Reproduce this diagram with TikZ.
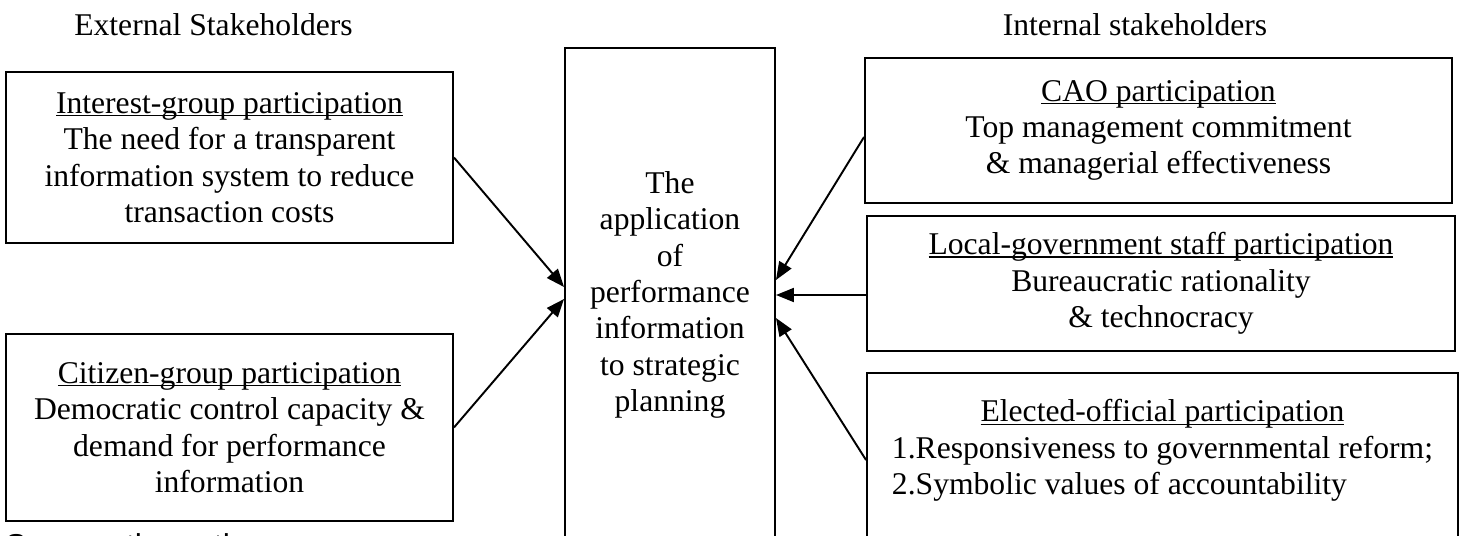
\documentclass[tikz,border=0pt]{standalone}
\usepackage{fontspec}
\setmainfont{Liberation Serif}
\newfontfamily\srcfont{Liberation Sans}
\usetikzlibrary{arrows.meta,positioning}

% underline that sits close to the baseline
\newcommand{\undr}[1]{\setbox0=\hbox{#1}\rlap{\rule[-1.8pt]{\wd0}{0.9pt}}\box0}

\begin{document}
\begin{tikzpicture}[
  every node/.style={font=\fontsize{18}{20.7}\selectfont},
  box/.style={rectangle, draw=black, line width=1.1pt, align=center, inner sep=2pt},
  hdr/.style={align=center, inner sep=0pt},
  arr/.style={-{Triangle[length=0.36cm, width=0.28cm]}, line width=1.1pt}
]
  \useasboundingbox (0,0) rectangle (29.2,-10.7);

  % headings
  \node[hdr] (exthdr) at (4.27,-0.5) {External Stakeholders};
  \node[hdr] (inthdr) at (22.7,-0.5) {Internal stakeholders};

  % centre
  \node[box, minimum width=4.2cm, minimum height=9.88cm] (appl) at (13.4,-5.9)
    {The\\ application\\ of\\ performance\\ information\\ to strategic\\ planning};

  % external side
  \node[box, minimum width=8.94cm, minimum height=3.42cm] (interest) at (4.59,-3.15)
    {\undr{Interest-group participation}\\ The need for a transparent\\
     information system to reduce\\ transaction costs};
  \node[box, minimum width=8.94cm, minimum height=3.74cm] (citizen) at (4.59,-8.55)
    {\undr{Citizen-group participation}\\ Democratic control capacity \&\\
     demand for performance\\ information};

  % internal side
  \node[box, minimum width=11.74cm, minimum height=2.9cm] (cao) at (23.17,-2.61)
    {\undr{CAO participation}\\ Top management commitment\\ \& managerial effectiveness};
  \node[box, minimum width=11.76cm, minimum height=2.7cm] (staff) at (23.22,-5.67)
    {\undr{Local-government staff participation}\\ Bureaucratic rationality\\ \& technocracy};
  \node[box, minimum width=11.82cm, minimum height=3.72cm] (elected) at (23.25,-9.32)
    {\undr{Elected-official participation}\\
     \begin{tabular}[t]{@{}l@{}}1.Responsiveness to governmental reform;\\
       2.Symbolic values of accountability\end{tabular}\\[0.5cm] \mbox{}};

  \node[anchor=base west, inner sep=0pt, font=\srcfont\fontsize{18}{20.7}\selectfont]
    (src) at (0.1,-11.12) {Source: the authors};

  \draw[arr] (interest.east) -- ([yshift=0.16cm]appl.west);
  \draw[arr] (citizen.east) -- ([yshift=-0.08cm]appl.west);
  \draw[arr] ([yshift=-0.13cm]cao.west) -- ([yshift=0.3cm]appl.east);
  \draw[arr] (staff.west |- appl.east) -- (appl.east);
  \draw[arr] ([yshift=0.12cm]elected.west) -- ([yshift=-0.46cm]appl.east);
\end{tikzpicture}
\end{document}
